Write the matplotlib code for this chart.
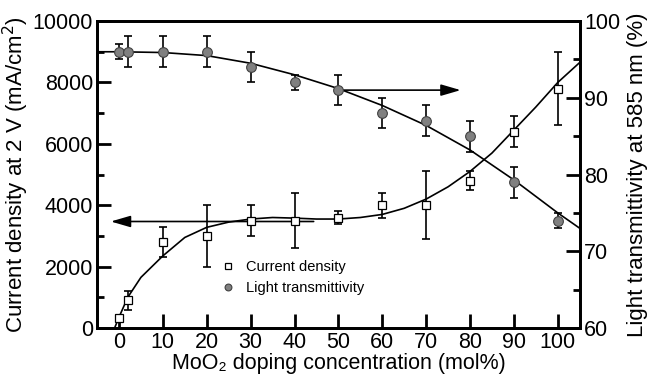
import matplotlib
matplotlib.use('Agg')
import matplotlib.pyplot as plt
from matplotlib.ticker import MultipleLocator

plt.rcParams['font.family'] = ['Liberation Sans', 'DejaVu Sans']

# measured points
conc = [0, 2, 10, 20, 30, 40, 50, 60, 70, 80, 90, 100]
current = [320, 900, 2800, 3000, 3500, 3500, 3600, 4000, 4000, 4800, 6400, 7800]
current_err = [100, 300, 500, 1000, 500, 900, 200, 400, 1100, 300, 500, 1200]
trans = [96, 96, 96, 96, 94, 92, 91, 88, 87, 85, 79, 74]
trans_err = [1, 2, 2, 2, 2, 1, 2, 2, 2, 2, 2, 1]

# guide curves
cur_fit_x = [-1, 0, 2, 5, 10, 15, 20, 25, 30, 35, 40, 45, 50, 55, 60, 65, 70, 75, 80, 85, 90, 95, 100, 105]
cur_fit_y = [0, 350, 1000, 1650, 2350, 2950, 3280, 3450, 3550, 3600, 3580, 3550, 3550, 3600, 3700, 3900,
             4200, 4600, 5100, 5700, 6450, 7200, 8000, 8650]
tr_fit_x = [-5, 0, 10, 20, 30, 40, 50, 60, 70, 80, 90, 100, 105]
tr_fit_y = [96.0, 96.0, 95.9, 95.5, 94.5, 93.0, 91.2, 89.0, 86.4, 83.2, 79.3, 75.0, 73.0]

fig = plt.figure(figsize=(6.47, 3.83), dpi=100)
ax = fig.add_axes([0.150, 0.1436, 0.746, 0.8014])
ax2 = ax.twinx()

ax.plot(cur_fit_x, cur_fit_y, color='black', lw=1.2, zorder=2)
ax.errorbar(conc, current, yerr=current_err, fmt='none', ecolor='black', elinewidth=1.2,
            capsize=3, capthick=1.2, zorder=3)
sq, = ax.plot(conc, current, 's', ms=6, mfc='white', mec='black', mew=0.9, ls='none', zorder=4,
              label='Current density')

ax2.plot(tr_fit_x, tr_fit_y, color='black', lw=1.2, zorder=2)
ax2.errorbar(conc, trans, yerr=trans_err, fmt='none', ecolor='black', elinewidth=1.2,
             capsize=3, capthick=1.2, zorder=3)
ci, = ax2.plot(conc, trans, 'o', ms=7, mfc='#808080', mec='#404040', mew=0.8, ls='none', zorder=4,
               label='Light transmittivity')

ax.annotate('', xy=(-2.5, 3470), xytext=(45, 3470),
            arrowprops=dict(arrowstyle='-|>,head_length=1.2,head_width=0.35', color='black', lw=1.2))
ax2.annotate('', xy=(78.5, 91.0), xytext=(50, 91.0),
             arrowprops=dict(arrowstyle='-|>,head_length=1.2,head_width=0.35', color='black', lw=1.2))

ax.set_xlim(-5, 105)
ax.set_ylim(0, 10000)
ax2.set_ylim(60, 100)
ax.set_xticks(range(0, 101, 10))
ax.yaxis.set_major_locator(MultipleLocator(2000))
ax.yaxis.set_minor_locator(MultipleLocator(1000))
ax2.yaxis.set_major_locator(MultipleLocator(10))
ax2.yaxis.set_minor_locator(MultipleLocator(5))

for a in (ax, ax2):
    for s in a.spines.values():
        s.set_linewidth(2)
    a.tick_params(which='major', direction='in', length=10, width=2, labelsize=15.5, pad=3)
    a.tick_params(which='minor', direction='in', length=5, width=2)
ax.tick_params(axis='x', which='both', top=False)

ax.set_xlabel('MoO\u2082 doping concentration (mol%)', fontsize=15.5, labelpad=0)
ax.set_ylabel('Current density at 2 V (mA/cm$^2$)', fontsize=16, labelpad=1)
ax2.set_ylabel('Light transmittivity at 585 nm (%)', fontsize=16, labelpad=5)

ax2.legend(handles=[sq, ci], loc='upper left', bbox_to_anchor=(0.245, 0.245), frameon=False,
           fontsize=10.5, handlelength=0.8, handletextpad=0.8, borderpad=0, labelspacing=0.45,
           markerscale=0.7)

fig.savefig('out.png', dpi=100)
